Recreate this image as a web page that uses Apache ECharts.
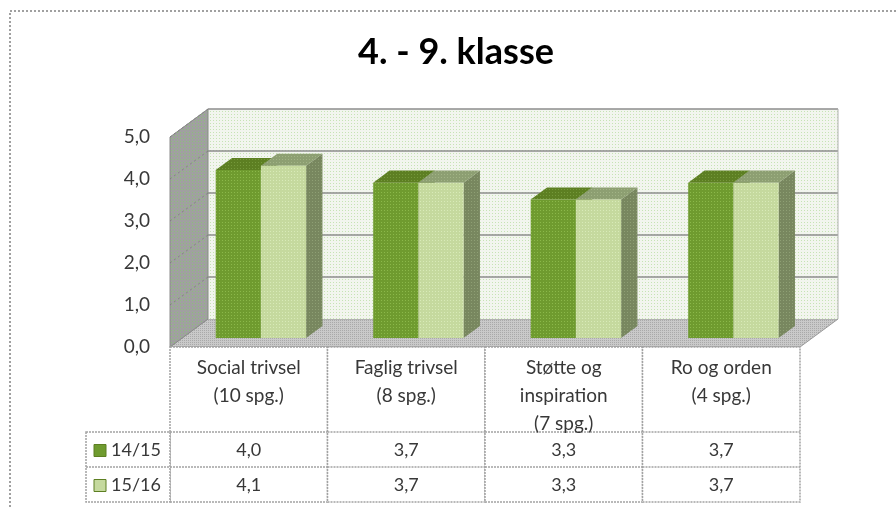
<!DOCTYPE html>
<html>
<head>
<meta charset="utf-8">
<script src="https://cdn.jsdelivr.net/npm/echarts@6/dist/echarts.min.js"></script>
<style>
  html, body { margin: 0; padding: 0; background: #fff; }
  #chart { width: 896px; height: 508px; }
</style>
</head>
<body>
<div id="chart"></div>
<script>
// data
var categories = ['Social trivsel\n(10 spg.)', 'Faglig trivsel\n(8 spg.)', 'Støtte og\ninspiration\n(7 spg.)', 'Ro og orden\n(4 spg.)'];
var seriesNames = ['14/15', '15/16'];
var values1415 = [4.0, 3.7, 3.3, 3.7];
var values1516 = [4.1, 3.7, 3.3, 3.7];
var yTicks = [0, 1, 2, 3, 4, 5];

var FONT = 'Lato, "Open Sans", sans-serif';
var DEPTH = [38, -28];          // offset front plane -> back wall
var BAR_F0 = 0.32, BAR_F1 = 0.75; // bar depth (fraction of DEPTH)

function dots(bg, dot, step) {
    var c = document.createElement('canvas');
    c.width = c.height = step;
    var g = c.getContext('2d');
    g.fillStyle = bg;
    g.fillRect(0, 0, step, step);
    g.fillStyle = dot;
    g.fillRect(0, 0, 1, 1);
    return { image: c, repeat: 'repeat' };
}

var fills = {
    back: dots('#f2f5ee', '#c6e3b4', 3),
    left: dots('#a0a0a0', '#8cbf7a', 3),
    floor: dots('#c9c9c9', '#a9a9a9', 2),
    bars: [
        { front: dots('#6f9b2f', '#8bb84a', 3), side: dots('#55722a', '#6a8a3a', 3), top: dots('#5d7f22', '#75993a', 3) },
        { front: dots('#c5d99e', '#d8eab8', 3), side: dots('#78875f', '#8e9f74', 3), top: dots('#8d9f72', '#a2b486', 3) }
    ]
};
var legendColors = ['#6f9b2f', '#c5d99e'];
var TXT = '#383838';

function fmt(v) { return v.toFixed(1).replace('.', ','); }

function renderWalls(params, api) {
    var cs = params.coordSys;
    var x = cs.x, y = cs.y, w = cs.width, h = cs.height;
    var dx = DEPTH[0], dy = DEPTH[1];
    var children = [
        { type: 'polygon', shape: { points: [[x + dx, y + h + dy], [x + w + dx, y + h + dy], [x + w, y + h], [x, y + h]] },
          style: { fill: fills.floor, stroke: '#9a9a9a', lineWidth: 1 } },
        { type: 'rect', shape: { x: x + dx, y: y + dy, width: w, height: h },
          style: { fill: fills.back } },
        { type: 'polygon', shape: { points: [[x, y], [x + dx, y + dy], [x + dx, y + h + dy], [x, y + h]] },
          style: { fill: fills.left, stroke: '#8a8a8a', lineWidth: 1 } }
    ];
    yTicks.forEach(function (v) {
        if (v === 0) return;
        var py = api.coord([0, v])[1];
        children.push({ type: 'line', shape: { x1: x + dx, y1: py + dy, x2: x + w + dx, y2: py + dy },
            style: { stroke: '#8c8c8c', lineWidth: 1.5 } });
        children.push({ type: 'line', shape: { x1: x, y1: py, x2: x + dx, y2: py + dy },
            style: { stroke: '#6e6e6e', lineWidth: 1, lineDash: [2, 3], opacity: 0.6 } });
    });
    children.push({ type: 'line', shape: { x1: x + w + dx, y1: y + dy, x2: x + w + dx, y2: y + h + dy },
        style: { stroke: '#b0b0b0', lineWidth: 1 } });
    return { type: 'group', children: children };
}

function barRenderer(s) {
    return function (params, api) {
        var idx = api.value(0);
        var base = api.coord([idx, 0]);
        var top = api.coord([idx, api.value(1)]);
        var band = api.size([1, 0])[0];
        var bw = band * 0.287;
        var ox = DEPTH[0] * BAR_F0, oy = DEPTH[1] * BAR_F0;
        var dx = DEPTH[0] * (BAR_F1 - BAR_F0), dy = DEPTH[1] * (BAR_F1 - BAR_F0);
        var left = base[0] - bw + s * bw + ox, right = left + bw;
        var yb = base[1] + oy, yt = top[1] + oy;
        var f = fills.bars[s];
        return {
            type: 'group',
            children: [
                { type: 'polygon', shape: { points: [[right, yt], [right + dx, yt + dy], [right + dx, yb + dy], [right, yb]] },
                  style: { fill: f.side } },
                { type: 'polygon', shape: { points: [[left, yt], [right, yt], [right + dx, yt + dy], [left + dx, yt + dy]] },
                  style: { fill: f.top } },
                { type: 'rect', shape: { x: left, y: yt, width: bw, height: yb - yt },
                  style: { fill: f.front } }
            ]
        };
    };
}

function renderTable(params, api) {
    var cs = params.coordSys;
    var idx = api.value(0);
    var c = api.coord([idx, 0]);
    var band = api.size([1, 0])[0];
    var x0 = c[0] - band / 2;
    var top = cs.y + cs.height;
    var rows = [top, top + 85, top + 120, top + 155];
    var line = { stroke: '#a3a3a3', lineWidth: 1.5, lineDash: [2, 1] };
    var children = [
        { type: 'rect', shape: { x: x0, y: rows[0], width: band, height: rows[3] - rows[0] }, style: Object.assign({ fill: '#fff' }, line) },
        { type: 'line', shape: { x1: x0, y1: rows[1], x2: x0 + band, y2: rows[1] }, style: line },
        { type: 'line', shape: { x1: x0, y1: rows[2], x2: x0 + band, y2: rows[2] }, style: line },
        { type: 'text', style: { text: categories[idx], x: c[0], y: rows[0] + 7, align: 'center', verticalAlign: 'top',
            fontSize: 19, lineHeight: 28, fontFamily: FONT, fill: TXT } },
        { type: 'text', style: { text: fmt(api.value(1)), x: c[0], y: (rows[1] + rows[2]) / 2 + 1, align: 'center', verticalAlign: 'middle',
            fontSize: 18, fontFamily: FONT, fill: TXT } },
        { type: 'text', style: { text: fmt(api.value(2)), x: c[0], y: (rows[2] + rows[3]) / 2 + 1, align: 'center', verticalAlign: 'middle',
            fontSize: 18, fontFamily: FONT, fill: TXT } }
    ];
    if (idx === 0) {
        var lx = x0 - 84;
        children.push({ type: 'rect', shape: { x: lx, y: rows[1], width: 84, height: rows[3] - rows[1] }, style: Object.assign({ fill: '#fff' }, line) });
        children.push({ type: 'line', shape: { x1: lx, y1: rows[2], x2: x0, y2: rows[2] }, style: line });
        seriesNames.forEach(function (name, s) {
            var cy = (rows[1 + s] + rows[2 + s]) / 2 + 1;
            children.push({ type: 'rect', shape: { x: lx + 8, y: cy - 6, width: 12, height: 12 },
                style: { fill: legendColors[s], stroke: '#5d7f22', lineWidth: 1 } });
            children.push({ type: 'text', style: { text: name, x: lx + 25, y: cy, align: 'left', verticalAlign: 'middle',
                fontSize: 18, fontFamily: FONT, fill: TXT } });
        });
    }
    return { type: 'group', children: children };
}

var chart = echarts.init(document.getElementById('chart'), null, { renderer: 'canvas' });

var option = {
    animation: false,
    backgroundColor: '#fff',
    graphic: [
        { type: 'rect', z: -10, shape: { x: 10, y: 11, width: 920, height: 540 },
          style: { fill: 'none', stroke: '#a0a0a0', lineWidth: 2, lineDash: [2, 2] } },
        { type: 'text', x: 456, y: 52, style: { text: '4. - 9. klasse', align: 'center', verticalAlign: 'middle',
          fontSize: 36, fontWeight: 'bold', fontFamily: FONT, fill: '#000' } }
    ],
    grid: { left: 170, right: 96, top: 137, bottom: 161 },
    xAxis: {
        type: 'category',
        data: categories,
        axisLine: { show: false },
        axisTick: { show: false },
        axisLabel: { show: false },
        splitLine: { show: false }
    },
    yAxis: {
        type: 'value',
        min: 0,
        max: 5,
        interval: 1,
        axisLine: { show: false },
        axisTick: { show: false },
        splitLine: { show: false },
        axisLabel: { margin: 20, fontSize: 19, fontFamily: FONT, color: TXT, formatter: fmt }
    },
    series: [
        { type: 'custom', name: 'walls', clip: false, silent: true, renderItem: renderWalls, data: [[0, 0]] },
        { type: 'custom', name: seriesNames[0], clip: false, renderItem: barRenderer(0), encode: { x: 0, y: 1 },
          data: values1415.map(function (v, i) { return [i, v]; }) },
        { type: 'custom', name: seriesNames[1], clip: false, renderItem: barRenderer(1), encode: { x: 0, y: 1 },
          data: values1516.map(function (v, i) { return [i, v]; }) },
        { type: 'custom', name: 'table', clip: false, silent: true, renderItem: renderTable, encode: { x: 0 },
          data: categories.map(function (c, i) { return [i, values1415[i], values1516[i]]; }) }
    ]
};
chart.setOption(option);
</script>
</body>
</html>
